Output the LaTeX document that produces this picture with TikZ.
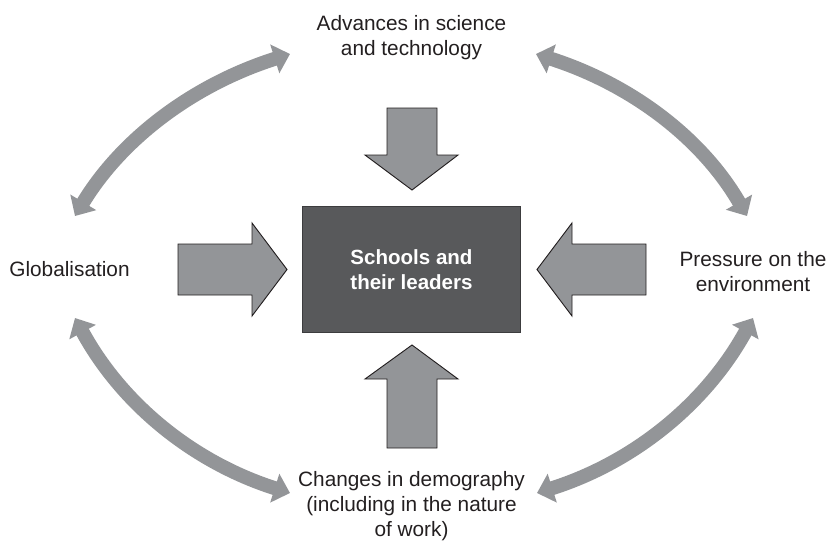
\documentclass[tikz,border=0pt]{standalone}
\usepackage{fontspec}
\setmainfont{Liberation Sans}
\usetikzlibrary{arrows.meta}
\definecolor{arrowgray}{HTML}{939598}
\definecolor{boxgray}{HTML}{58595B}
\definecolor{boxedge}{HTML}{3C3C3E}
\definecolor{textdark}{HTML}{231F20}
\begin{document}
\begin{tikzpicture}[x=0.75pt,y=-0.75pt,
  lbl/.style={font=\fontsize{15.6}{18.8}\selectfont, text=textdark, align=center, inner sep=0pt},
  centrebox/.style={draw=boxedge, line width=0.8pt, fill=boxgray, minimum width=164pt, minimum height=94pt,
     text=white, align=center, font=\fontsize{15.4}{18.8}\selectfont\bfseries, inner sep=0pt},
  blockarrow/.style={fill=arrowgray, draw=textdark, line width=0.7pt, line join=miter},
  curvearrow/.style={draw=arrowgray, line width=10.5pt,
     {Triangle[width=22pt,length=12pt]}-{Triangle[width=22pt,length=12pt]}}]
\useasboundingbox (0,0) rectangle (828,540);

% labels
\node[lbl] (adv) at (411.5,37.3) {Advances in science\\and technology};
\node[lbl] (glob) at (69.5,269.4) {Globalisation};
\node[lbl] (env) at (753,272) {Pressure on the\\environment};
\node[lbl] (dem) at (411.5,506.5) {Changes in demography\\(including in the nature\\of work)};

% centre box
\node[centrebox] (sch) at (411.5,269.5) {Schools and\\their leaders};

% block arrows
\draw[blockarrow] (387,108) -- (437,108) -- (437,155) -- (458,155) -- (412,190) -- (365,155) -- (387,155) -- cycle;
\draw[blockarrow] (387,448) -- (437,448) -- (437,379) -- (458,379) -- (412,345) -- (365,379) -- (387,379) -- cycle;
\draw[blockarrow] (178,244) -- (252,244) -- (252,223) -- (287,269.5) -- (252,316) -- (252,295) -- (178,295) -- cycle;
\draw[blockarrow] (646,244) -- (572,244) -- (572,223) -- (537,269.5) -- (572,316) -- (572,295) -- (646,295) -- cycle;

% curved double arrows
\coordinate (tlA) at (75,216);
\coordinate (tlB) at (290,54);
\coordinate (trA) at (536,54);
\coordinate (trB) at (747,216);
\coordinate (blA) at (75,318);
\coordinate (blB) at (290,493);
\coordinate (brA) at (537,493);
\coordinate (brB) at (753,318);
\draw[curvearrow] (tlA) .. controls (121.7,138.7) and (193.3,84.7) .. (tlB);
\draw[curvearrow] (trA) .. controls (632,84.7) and (702.3,138.7) .. (trB);
\draw[curvearrow] (blA) .. controls (121.7,404) and (193.3,462.3) .. (blB);
\draw[curvearrow] (brA) .. controls (633.7,462.3) and (705.7,404) .. (brB);
\end{tikzpicture}
\end{document}
